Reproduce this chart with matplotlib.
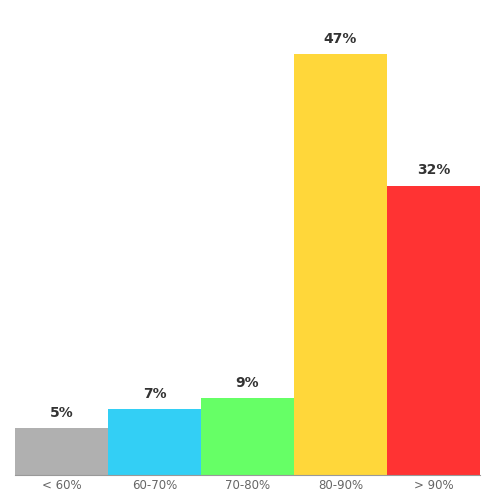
import matplotlib
matplotlib.use('Agg')
import matplotlib.pyplot as plt

categories = ['< 60%', '60-70%', '70-80%', '80-90%', '> 90%']
shares = [5.2, 7.3, 8.6, 47.0, 32.3]
colors = ['#b0b0b0', '#33cff5', '#66ff66', '#ffd73a', '#ff3333']

fig = plt.figure(figsize=(5, 5), dpi=100)
ax = fig.add_axes([0.03, 0.051, 0.93, 0.909])

x = range(len(categories))
bars = ax.bar(x, shares, width=1.0, color=colors)
for b, v in zip(bars, shares):
    ax.text(b.get_x() + b.get_width() / 2, v + 0.9, f'{round(v)}%', ha='center', va='bottom',
            fontsize=10, fontweight='bold', color='#333333')

ax.set_xlim(-0.5, len(categories) - 0.5)
ax.set_ylim(0, 50.8)
ax.set_xticks(list(x))
ax.set_xticklabels(categories, color='#666666', fontsize=8.5)
ax.tick_params(axis='x', length=0, pad=3)
ax.set_yticks([])
for s in ['top', 'right', 'left']:
    ax.spines[s].set_visible(False)
ax.spines['bottom'].set_color('#999999')

fig.savefig('out.png', dpi=100)
